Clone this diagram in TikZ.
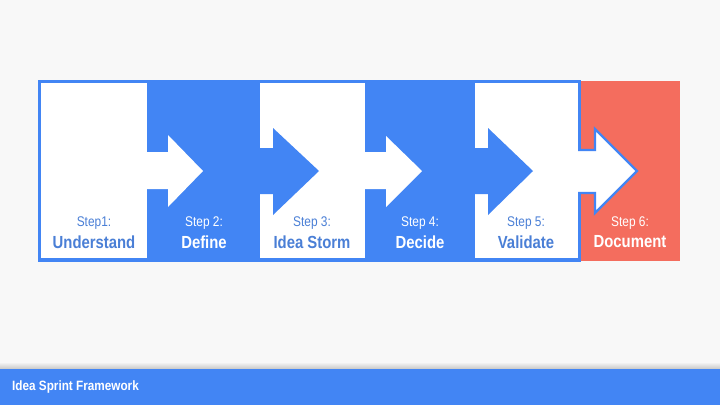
\documentclass[tikz,border=0pt]{standalone}
\usepackage{fontspec}
\setmainfont{Liberation Sans}
\newfontfamily\cond[FakeStretch=0.85]{Liberation Sans}
\newfontfamily\condtitle[FakeStretch=0.87]{Liberation Sans}
\definecolor{gblue}{HTML}{4285F4}
\definecolor{gred}{HTML}{F46D5E}
\definecolor{pagebg}{HTML}{F8F8F8}
\definecolor{softblue}{HTML}{4A7FD6}
\tikzset{
  steplbl/.style={font=\cond\fontsize{14}{15}\selectfont},
  namelbl/.style={font=\cond\bfseries\fontsize{17.5}{19}\selectfont},
}
\begin{document}
\begin{tikzpicture}[x=1pt,y=-1pt,line join=miter]
  \fill[pagebg] (0,0) rectangle (720,405);
  % footer
  \shade[top color=pagebg,bottom color=black!22] (0,362) rectangle (720,369);
  \fill[gblue] (0,369) rectangle (720,405);
  \node[anchor=west,inner sep=0pt,text=white,font=\condtitle\bfseries\fontsize{13.5}{15}\selectfont] (title) at (12,387) {Idea Sprint Framework};
  % frame and panels
  \fill[gblue] (38,80) rectangle (581,262);
  \fill[white] (41,83) rectangle (147,258);
  \fill[white] (260,83) rectangle (365,258);
  \fill[white] (475,83) rectangle (578,258);
  % white arrows on blue
  \fill[white] (146,152)--(168,152)--(168,135)--(203,171)--(168,207)--(168,189)--(146,189)--cycle;
  \fill[white] (364,152)--(386,152)--(386,136)--(422,171)--(386,207)--(386,189)--(364,189)--cycle;
  % blue arrows on white
  \fill[gblue] (259,148)--(273,148)--(273,128)--(319,171)--(273,215)--(273,194)--(259,194)--cycle;
  \fill[gblue] (474,148)--(488,148)--(488,128)--(533,171)--(488,215)--(488,194)--(474,194)--cycle;
  % last step
  \fill[gred] (581,81) rectangle (680,261);
  \fill[white] (576,150)--(595,150)--(595,129)--(637,171)--(595,213)--(595,193)--(576,193)--cycle;
  \draw[gblue,line width=2.2pt] (578,150)--(595,150)--(595,129)--(637,171)--(595,213)--(595,193)--(578,193);
  % labels
  \foreach \x/\st/\nm/\col [count=\i] in {94/Step1:/Understand/softblue,
      204/Step 2:/Define/white, 312/Step 3:/Idea Storm/softblue,
      420/Step 4:/Decide/white, 526/Step 5:/Validate/softblue,
      630/Step 6:/Document/white}{
    \node[steplbl,text=\col] (s\i) at (\x,223) {\st};
    \node[namelbl,text=\col] (n\i) at (\x,242) {\nm};
  }
\end{tikzpicture}
\end{document}
